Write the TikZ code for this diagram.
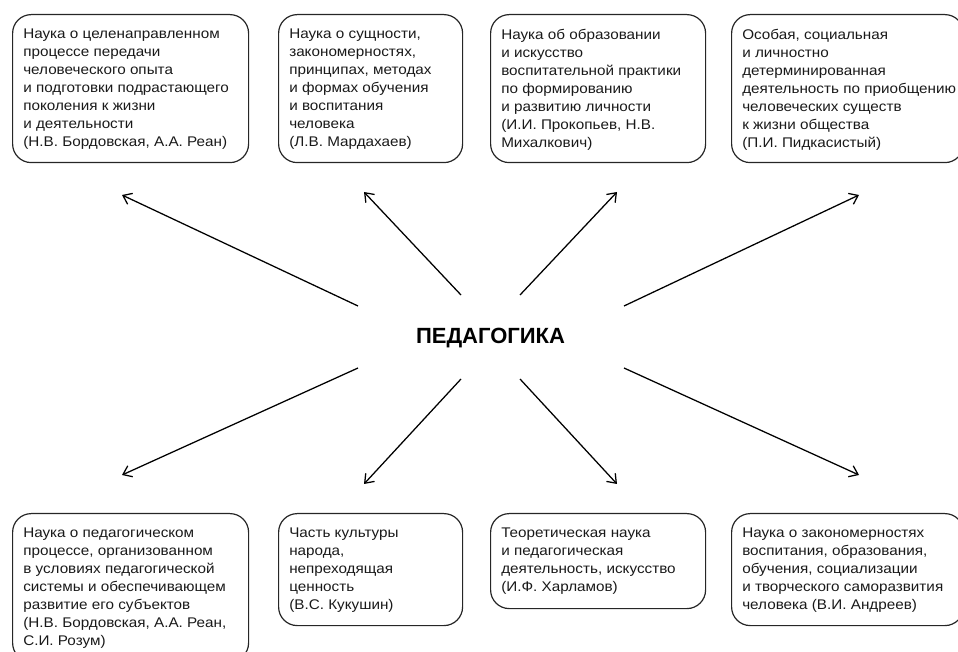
\documentclass[tikz,border=0pt]{standalone}
\usepackage{fontspec}
\setmainfont{Liberation Sans}
\newfontfamily\boxfont[FakeStretch=1.09]{Liberation Sans}
\usetikzlibrary{arrows.meta,calc}
\begin{document}
\begin{tikzpicture}[x=0.75pt,y=-0.75pt,
  box/.style={draw=black!85,line width=0.9pt,rounded corners=14pt,anchor=north west,inner sep=0pt},
  txt/.style={anchor=north west,inner sep=0pt,align=left,font=\boxfont\fontsize{10.5}{13.5}\selectfont,text=black!90},
  arr/.style={line width=0.95pt,-{Straight Barb[length=6pt,width=9pt,line width=0.95pt]}}]
\useasboundingbox (0,0) rectangle (958,652);
\clip (0,0) rectangle (958,652);
% top boxes
\node[box,minimum width=236*0.75pt,minimum height=148*0.75pt] (b1) at (12,14) {};
\node[box,minimum width=184*0.75pt,minimum height=148*0.75pt] (b2) at (278,14) {};
\node[box,minimum width=215*0.75pt,minimum height=148*0.75pt] (b3) at (490,14) {};
\node[box,minimum width=232*0.75pt,minimum height=148*0.75pt] (b4) at (731,14) {};
% bottom boxes
\node[box,minimum width=236*0.75pt,minimum height=148*0.75pt] (b5) at (12,513) {};
\node[box,minimum width=184*0.75pt,minimum height=112*0.75pt] (b6) at (278,513) {};
\node[box,minimum width=215*0.75pt,minimum height=95*0.75pt] (b7) at (490,513) {};
\node[box,minimum width=232*0.75pt,minimum height=112*0.75pt] (b8) at (731,513) {};
% texts
\node[txt] (t1) at (23,29) {Наука о целенаправленном\\процессе передачи\\человеческого опыта\\и подготовки подрастающего\\поколения к жизни\\и деятельности\\(Н.В. Бордовская, А.А. Реан)};
\node[txt] (t2) at (289,29) {Наука о сущности,\\закономерностях,\\принципах, методах\\и формах обучения\\и воспитания\\человека\\(Л.В. Мардахаев)};
\node[txt] (t3) at (501,29) {Наука об образовании\\и искусство\\воспитательной практики\\по формированию\\и развитию личности\\(И.И. Прокопьев, Н.В.\\Михалкович)};
\node[txt] (t4) at (742,29) {Особая, социальная\\и личностно\\детерминированная\\деятельность по приобщению\\человеческих существ\\к жизни общества\\(П.И. Пидкасистый)};
\node[txt] (t5) at (23,528) {Наука о педагогическом\\процессе, организованном\\в условиях педагогической\\системы и обеспечивающем\\развитие его субъектов\\(Н.В. Бордовская, А.А. Реан,\\С.И. Розум)};
\node[txt] (t6) at (289,528) {Часть культуры\\народа,\\непреходящая\\ценность\\(В.С. Кукушин)};
\node[txt] (t7) at (501,528) {Теоретическая наука\\и педагогическая\\деятельность, искусство\\(И.Ф. Харламов)};
\node[txt] (t8) at (742,528) {Наука о закономерностях\\воспитания, образования,\\обучения, социализации\\и творческого саморазвития\\человека (В.И. Андреев)};
% center
\node[font=\fontsize{16.5}{18}\selectfont\bfseries,inner sep=0pt] (c) at (490.5,338) {ПЕДАГОГИКА};
% arrow ends
\coordinate (s1) at (358,306); \coordinate (e1) at (122,195);
\coordinate (s2) at (461,295); \coordinate (e2) at (364,192);
\coordinate (s3) at (520,295); \coordinate (e3) at (617,192);
\coordinate (s4) at (624,306); \coordinate (e4) at (859,195);
\coordinate (s5) at (358,368); \coordinate (e5) at (122,475);
\coordinate (s6) at (461,379); \coordinate (e6) at (364,484);
\coordinate (s7) at (520,379); \coordinate (e7) at (617,484);
\coordinate (s8) at (624,368); \coordinate (e8) at (859,475);
\foreach \i in {1,...,8} {\draw[arr] (s\i) -- (e\i);}
\end{tikzpicture}
\end{document}
